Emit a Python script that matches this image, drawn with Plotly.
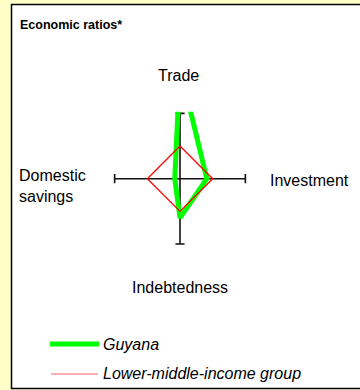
import plotly.graph_objects as go

# spokes: up, right, down, left
categories = ["Trade", "Investment", "Indebtedness", "Domestic<br>savings"]
series_names = ["Guyana", "Lower-middle-income group"]
guyana = [3.4, 0.82, 1.2, 0.16]
lower_middle = [1.0, 1.0, 1.0, 1.0]
axis_max = 2.0

W, H = 360, 390
FONT = "Liberation Sans, Arial, sans-serif"


def to_xy(vals):
    # Trade up, Investment right, Indebtedness down, Savings left
    xs = [0, vals[1], 0, -vals[3], 0]
    ys = [vals[0], 0, -vals[2], 0, vals[0]]
    return xs, ys


def px_x(p):
    return p / W


def px_y(p):
    return (H - p) / H


fig = go.Figure()

# cross with end caps
c = 0.14
cx = [0, 0, None, -axis_max, axis_max, None,
      -c, c, None, -c, c, None,
      -axis_max, -axis_max, None, axis_max, axis_max]
cy = [-axis_max, axis_max, None, 0, 0, None,
      axis_max, axis_max, None, -axis_max, -axis_max, None,
      -c, c, None, -c, c]
fig.add_trace(go.Scatter(x=cx, y=cy, mode="lines",
                         line=dict(color="#111111", width=1.6),
                         hoverinfo="skip", showlegend=False))

gx, gy = to_xy(guyana)
fig.add_trace(go.Scatter(x=gx, y=gy, mode="lines", name=series_names[0],
                         line=dict(color="#00FF00", width=5),
                         showlegend=False))

lx, ly = to_xy(lower_middle)
fig.add_trace(go.Scatter(x=lx, y=ly, mode="lines", name=series_names[1],
                         line=dict(color="#FF0000", width=1.3),
                         showlegend=False))

rng = [-2.05, 2.05]
fig.update_xaxes(range=rng, domain=[px_x(113), px_x(247)], visible=False,
                 fixedrange=True)
fig.update_yaxes(range=rng, domain=[px_y(245.7), px_y(111.7)], visible=False,
                 fixedrange=True)


def label(text, x, y, size=16, anchor="left", **kw):
    return dict(text=text, x=px_x(x), y=px_y(y), xref="paper", yref="paper",
                xanchor=anchor, yanchor="middle", showarrow=False,
                font=dict(size=size, color="#000000", family=FONT), **kw)


ann = [
    label(categories[0], 178, 75.5, anchor="center"),
    label(categories[1], 268, 180),
    label(categories[2], 180, 287, anchor="center"),
    label(categories[3], 17, 186, align="left"),
    label("<b>Economic ratios*</b>", 18, 24.5, size=12.5),
    label("<i>%s</i>" % series_names[0], 101, 344),
    label("<i>%s</i>" % series_names[1], 101, 373),
]

shapes = [
    # white panel with black border
    dict(type="rect", xref="paper", yref="paper",
         x0=px_x(11.5), x1=1.05, y0=px_y(388.5), y1=px_y(4.5),
         line=dict(color="#000000", width=1.5), fillcolor="#FFFFFF",
         layer="below"),
    # legend swatches
    dict(type="line", xref="paper", yref="paper",
         x0=px_x(50), x1=px_x(99), y0=px_y(344), y1=px_y(344),
         line=dict(color="#00FF00", width=5)),
    dict(type="line", xref="paper", yref="paper",
         x0=px_x(51), x1=px_x(98), y0=px_y(374), y1=px_y(374),
         line=dict(color="#FF6060", width=1)),
]

fig.update_layout(
    width=W, height=H,
    margin=dict(l=0, r=0, t=0, b=0),
    paper_bgcolor="#FFFFC8",
    plot_bgcolor="rgba(0,0,0,0)",
    showlegend=False,
    annotations=ann,
    shapes=shapes,
    font=dict(family=FONT),
)

fig.write_html("out.html", config={"displayModeBar": False},
               post_script="document.body.style.margin='0';")
